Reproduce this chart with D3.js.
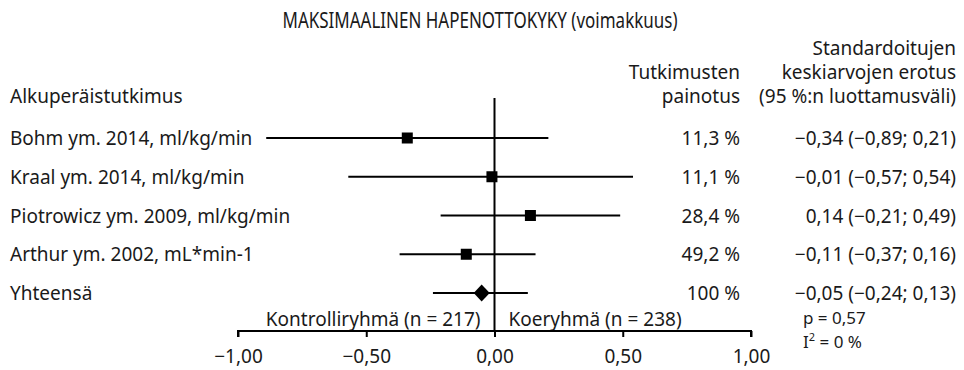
<!DOCTYPE html>
<html>
<head>
<meta charset="utf-8">
<script src="https://cdn.jsdelivr.net/npm/d3@7"></script>
<style>
  html, body { margin: 0; padding: 0; background: #fff; }
  svg { display: block; }
  text { font-family: "Noto Sans", "Liberation Sans", sans-serif; fill: #1a1a1a; }
</style>
</head>
<body>
<svg id="chart" width="964" height="370"></svg>
<script>
// Study rows of the forest plot
const studies = [
  "Bohm ym. 2014, ml/kg/min",
  "Kraal ym. 2014, ml/kg/min",
  "Piotrowicz ym. 2009, ml/kg/min",
  "Arthur ym. 2002, mL*min-1"
];
const smd = [-0.34, -0.01, 0.14, -0.11];
const ciLower = [-0.89, -0.57, -0.21, -0.37];
const ciUpper = [0.21, 0.54, 0.49, 0.16];
const weights = [11.3, 11.1, 28.4, 49.2];

// Pooled estimate
const totalLabel = "Yhteensä";
const totalSmd = -0.05;
const totalLower = -0.24;
const totalUpper = 0.13;
const totalWeight = 100;

// Axis
const axisTicks = [-1, -0.5, 0, 0.5, 1];
const axisDomain = [-1, 1];

const title = "MAKSIMAALINEN HAPENOTTOKYKY (voimakkuus)";
const colStudy = "Alkuperäistutkimus";
const colWeight = ["Tutkimusten", "painotus"];
const colEffect = ["Standardoitujen", "keskiarvojen erotus", "(95 %:n luottamusväli)"];
const groupLeft = "Kontrolliryhmä (n = 217)";
const groupRight = "Koeryhmä (n = 238)";
const stats = ["p = 0,57", "I", "2", " = 0 %"];

const fi = d3.formatLocale({
  decimal: ",", thousands: " ", grouping: [3], currency: ["", " €"], minus: "\u2212"
});
const f2 = fi.format(".2f");
const f1 = fi.format(".1f");

const svg = d3.select("#chart");
const fs = "19px";

const x = d3.scaleLinear().domain(axisDomain).range([238, 751]);
const rowCount = studies.length + 1;
const y = d3.scaleLinear().domain([0, rowCount - 1]).range([138, 293]);
const axisY = 331;

// Title, set in a condensed width
svg.append("text")
  .attr("x", 480).attr("y", 28).attr("text-anchor", "middle")
  .attr("textLength", 395).attr("lengthAdjust", "spacingAndGlyphs")
  .style("font-size", "21px").text(title);

// Column headers
svg.append("text").attr("x", 10).attr("y", 103).style("font-size", fs).text(colStudy);
colWeight.forEach((t, i) => {
  svg.append("text").attr("x", 740).attr("y", 79 + i * 24)
    .attr("text-anchor", "end").style("font-size", fs).text(t);
});
colEffect.forEach((t, i) => {
  svg.append("text").attr("x", 956).attr("y", 55 + i * 24)
    .attr("text-anchor", "end").style("font-size", fs).text(t);
});

// Line of no effect
svg.append("line")
  .attr("x1", x(0)).attr("x2", x(0)).attr("y1", 98).attr("y2", axisY)
  .attr("stroke", "#000").attr("stroke-width", 2);

// Study rows
const rows = studies.map((s, i) => ({
  label: s, est: smd[i], lo: ciLower[i], hi: ciUpper[i], w: weights[i], i
}));

const g = svg.append("g");
rows.forEach(r => {
  const yy = y(r.i);
  g.append("text").attr("x", 10).attr("y", yy + 7).style("font-size", fs).text(r.label);
  g.append("line").attr("x1", x(r.lo)).attr("x2", x(r.hi)).attr("y1", yy).attr("y2", yy)
    .attr("stroke", "#000").attr("stroke-width", 2);
  g.append("rect").attr("x", x(r.est) - 5.5).attr("y", yy - 5.5)
    .attr("width", 11).attr("height", 11).attr("fill", "#000");
  g.append("text").attr("x", 740).attr("y", yy + 7).attr("text-anchor", "end")
    .style("font-size", fs).text(f1(r.w) + " %");
  g.append("text").attr("x", 956).attr("y", yy + 7).attr("text-anchor", "end")
    .style("font-size", fs)
    .text(`${f2(r.est)} (${f2(r.lo)}; ${f2(r.hi)})`);
});

// Pooled row
const ty = y(studies.length);
svg.append("text").attr("x", 10).attr("y", ty + 7).style("font-size", fs).text(totalLabel);
svg.append("line").attr("x1", x(totalLower)).attr("x2", x(totalUpper)).attr("y1", ty).attr("y2", ty)
  .attr("stroke", "#000").attr("stroke-width", 2);
const tx = x(totalSmd);
svg.append("path")
  .attr("d", `M${tx - 8},${ty} L${tx},${ty - 8.5} L${tx + 8},${ty} L${tx},${ty + 8.5} Z`)
  .attr("fill", "#000");
svg.append("text").attr("x", 740).attr("y", ty + 7).attr("text-anchor", "end")
  .style("font-size", fs).text(totalWeight + " %");
svg.append("text").attr("x", 956).attr("y", ty + 7).attr("text-anchor", "end")
  .style("font-size", fs)
  .text(`${f2(totalSmd)} (${f2(totalLower)}; ${f2(totalUpper)})`);

// Group labels above the axis
svg.append("text").attr("x", x(0) - 14).attr("y", 326).attr("text-anchor", "end")
  .style("font-size", fs).text(groupLeft);
svg.append("text").attr("x", x(0) + 14).attr("y", 326)
  .style("font-size", fs).text(groupRight);

// Axis
const axis = d3.axisBottom(x).tickValues(axisTicks).tickFormat(f2).tickSize(6).tickPadding(8);
const ag = svg.append("g").attr("transform", `translate(0,${axisY})`).call(axis);
ag.select(".domain").attr("stroke", "#000").attr("stroke-width", 2)
  .attr("d", `M${x(axisDomain[0])},6V0H${x(axisDomain[1])}V6`);
ag.selectAll(".tick line").attr("stroke", "#000").attr("stroke-width", 2);
ag.selectAll(".tick text").style("font-size", fs)
  .style("font-family", "'Noto Sans', sans-serif").attr("fill", "#1a1a1a")
  .attr("dy", null).attr("y", 32);

// Heterogeneity statistics, stacked under the pooled result
svg.append("text").attr("x", 803).attr("y", 324).style("font-size", "17px").text(stats[0]);
const i2 = svg.append("text").attr("x", 803).attr("y", 347.5).style("font-size", "17px");
i2.append("tspan").text(stats[1]);
i2.append("tspan").attr("dy", -7).style("font-size", "11px").text(stats[2]);
i2.append("tspan").attr("dy", 7).text(stats[3]);
</script>
</body>
</html>
